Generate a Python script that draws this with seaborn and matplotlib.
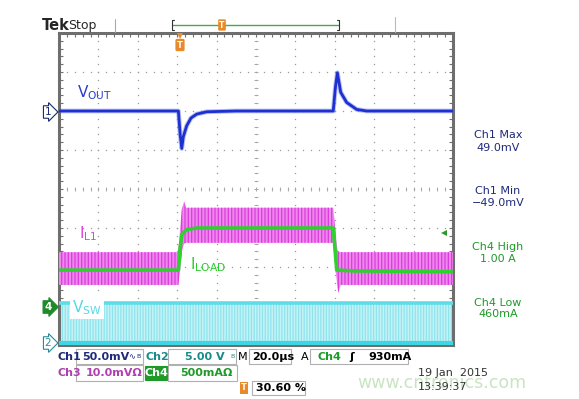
import numpy as np
import pandas as pd
import matplotlib
matplotlib.use("Agg")
import matplotlib.pyplot as plt
import seaborn as sns
from matplotlib.patches import Rectangle
from matplotlib.lines import Line2D

# ---------------- data ----------------
# Time axis in microseconds (20 us/div, 10 div)
vout_t = [0, 60.6, 61.5, 62.3, 63.1, 64.8, 67.0, 69.9, 75.0, 90.0, 139.2, 140.3, 141.3, 143.0, 146.0, 151.1, 156.2, 200]
vout_mv = [0, 0, -30, -48, -33, -19, -9, -4, -1, 0, 0, 30, 49, 24, 11, 2, 0, 0]

iload_t = [0, 60.6, 61.5, 62.4, 64.8, 70.0, 139.2, 140.2, 141.0, 150.0, 200]
iload_a = [0.46, 0.46, 0.75, 0.92, 0.98, 1.00, 1.00, 0.70, 0.46, 0.45, 0.44]

il1_t = [0, 60.6, 61.5, 62.4, 63.5, 64.5, 139.2, 140.2, 141.3, 141.8, 143.0, 200]
il1_hi = [0.69, 0.69, 1.00, 1.25, 1.34, 1.26, 1.26, 1.00, 0.72, 0.70, 0.69, 0.69]
il1_lo = [0.27, 0.27, 0.45, 0.70, 0.80, 0.81, 0.81, 0.50, 0.25, 0.17, 0.27, 0.27]

vsw_t = [0, 200]
vsw_hi = [5.1, 5.1]
vsw_lo = [0.0, 0.0]

# channel scales
CH1_MV_PER_DIV, CH1_OFFSET = 50.0, 2.0
CH4_A_PER_DIV, CH4_OFFSET = 0.5, -3.0
CH2_V_PER_DIV, CH2_OFFSET = 5.0, -3.95

W, H = 579, 399


def fx(x):
    return x / W


def fy(y):
    return 1 - y / H


sns.set_theme(style="white")
plt.rcParams["font.family"] = ["DejaVu Sans"]
plt.rcParams["mathtext.default"] = "regular"
plt.rcParams["hatch.linewidth"] = 0.9

fig = plt.figure(figsize=(5.79, 3.99), dpi=100)
fig.patch.set_facecolor("white")
ax = fig.add_axes([fx(59), fy(345), 394 / W, 312 / H])
ax.set_xlim(0, 200)
ax.set_ylim(-4, 4)
ax.set_facecolor("white")

# ---------------- graticule ----------------
gc = "#9a9a9a"
minor_x = np.arange(0, 200.01, 4)
minor_y = np.arange(-4, 4.01, 0.2)
for xv in np.arange(20, 200, 20):
    ax.plot(np.full_like(minor_y, xv), minor_y, ls="none", marker="s", ms=0.9,
            color=gc, mew=0, zorder=1)
for yv in np.arange(-3, 4, 1):
    ax.plot(minor_x, np.full_like(minor_x, yv), ls="none", marker="s", ms=0.9,
            color=gc, mew=0, zorder=1)
# centre cross with ticks
ax.plot(minor_x, np.zeros_like(minor_x), ls="none", marker="|", ms=3.5, mew=0.7, color="#a8a8a8", zorder=1)
ax.plot(np.full_like(minor_y, 100), minor_y, ls="none", marker="_", ms=3.5, mew=0.7, color="#a8a8a8", zorder=1)

for s in ax.spines.values():
    s.set_color("#6e6e6e")
    s.set_linewidth(2.2)
ax.set_xticks(np.arange(0, 200.01, 4))
ax.set_yticks(np.arange(-4, 4.01, 0.2))
ax.tick_params(direction="in", length=3, width=0.8, color="#6e6e6e",
               top=True, right=True, bottom=True, left=True,
               labelbottom=False, labelleft=False)
ax.grid(False)

# ---------------- traces ----------------
vt = np.array(vsw_t)
ax.fill_between(vt, np.array(vsw_lo) / CH2_V_PER_DIV + CH2_OFFSET,
                np.array(vsw_hi) / CH2_V_PER_DIV + CH2_OFFSET,
                facecolor="#c4f3f7", edgecolor="#8fe4ec", hatch="||||||", lw=0, zorder=2)
df_vsw_hi = pd.DataFrame({"t": vsw_t, "d": np.array(vsw_hi) / CH2_V_PER_DIV + CH2_OFFSET})
df_vsw_lo = pd.DataFrame({"t": vsw_t, "d": np.array(vsw_lo) / CH2_V_PER_DIV + CH2_OFFSET})
sns.lineplot(data=df_vsw_hi, x="t", y="d", ax=ax, color="#5cdde8", lw=2.6, zorder=3)
sns.lineplot(data=df_vsw_lo, x="t", y="d", ax=ax, color="#3fd6e4", lw=3.0, zorder=3)

it = np.array(il1_t)
ax.fill_between(it, np.array(il1_lo) / CH4_A_PER_DIV + CH4_OFFSET,
                np.array(il1_hi) / CH4_A_PER_DIV + CH4_OFFSET,
                facecolor="#ee88ee", edgecolor="#dc3cdc", hatch="|||||", lw=0, zorder=4)

df_iload = pd.DataFrame({"t": iload_t, "d": np.array(iload_a) / CH4_A_PER_DIV + CH4_OFFSET})
sns.lineplot(data=df_iload, x="t", y="d", ax=ax, color="#2ed12e", lw=2.6, zorder=5)

df_vout = pd.DataFrame({"t": vout_t, "d": np.array(vout_mv) / CH1_MV_PER_DIV + CH1_OFFSET})
sns.lineplot(data=df_vout, x="t", y="d", ax=ax, color="#6070e8", lw=3.4, alpha=0.45, zorder=6)
sns.lineplot(data=df_vout, x="t", y="d", ax=ax, color="#1e30d0", lw=2.0, zorder=7)
ax.set_xlabel("")
ax.set_ylabel("")

# trace labels
fig.text(fx(77), fy(93), r"V$_{OUT}$", color="#2a3ccc", fontsize=11, va="center", ha="left")
fig.text(fx(79), fy(234), r"I$_{L1}$", color="#e040e0", fontsize=11, va="center", ha="left")
fig.text(fx(190), fy(265), r"I$_{LOAD}$", color="#2ccc2c", fontsize=11, va="center", ha="left")
fig.text(fx(72), fy(308), r"V$_{SW}$", color="#55d8e6", fontsize=11, va="center", ha="left",
         bbox=dict(facecolor="white", edgecolor="none", pad=1.5), zorder=10)

# ---------------- header ----------------
fig.text(fx(42), fy(26), "Tek", fontsize=10.5, fontweight="bold", va="center", ha="left")
fig.text(fx(68), fy(26), "Stop", fontsize=9, va="center", ha="left")
fig.add_artist(Line2D([fx(115), fx(115)], [fy(19), fy(32)], color="#aaaaaa", lw=0.8))
fig.add_artist(Line2D([fx(395), fx(395)], [fy(17), fy(32)], color="#bbbbbb", lw=0.8))
fig.add_artist(Line2D([fx(172), fx(339)], [fy(25), fy(25)], color="#4aa84a", lw=1.0))
for xb, d in [(172, 2), (339, -2)]:
    fig.add_artist(Line2D([fx(xb + d), fx(xb), fx(xb), fx(xb + d)],
                          [fy(20), fy(20), fy(30), fy(30)], color="#333333", lw=0.8))
fig.text(fx(222), fy(25), "T", fontsize=5.5, color="white", fontweight="bold", ha="center", va="center",
         bbox=dict(boxstyle="round,pad=0.15", facecolor="#e88a2a", edgecolor="none"))
# trigger position marker
fig.add_artist(Line2D([fx(180)], [fy(36)], marker="v", ms=5, color="#e88a2a", mew=0))
fig.text(fx(180), fy(45), "T", fontsize=6, color="white", fontweight="bold", ha="center", va="center",
         bbox=dict(boxstyle="round,pad=0.2", facecolor="#e88a2a", edgecolor="none"))
# trigger level arrow
fig.add_artist(Line2D([fx(444)], [fy(233)], marker="<", ms=5, color="#2a9a2a", mew=0))

# ---------------- channel ground markers ----------------
fig.text(fx(48), fy(112), "1", fontsize=7.5, color="#1a2a70", ha="center", va="center",
         bbox=dict(boxstyle="rarrow,pad=0.12", facecolor="white", edgecolor="#1a2a70", lw=0.8))
fig.text(fx(48), fy(307), "4", fontsize=7.5, color="white", fontweight="bold", ha="center", va="center",
         bbox=dict(boxstyle="rarrow,pad=0.12", facecolor="#1e8a2a", edgecolor="#1e8a2a", lw=0.8))
fig.text(fx(48), fy(343), "2", fontsize=7.5, color="#2a8a9a", ha="center", va="center",
         bbox=dict(boxstyle="rarrow,pad=0.12", facecolor="white", edgecolor="#2a8a9a", lw=0.8))

# ---------------- right-side measurements ----------------
navy = "#1f2a7a"
green = "#1e9a28"
meas = [(135, 148, "Ch1 Max", "49.0mV", navy),
        (191, 203, "Ch1 Min", "\u221249.0mV", navy),
        (247, 259, "Ch4 High", "1.00 A", green),
        (303, 314, "Ch4 Low", "460mA", green)]
for y1, y2, a, b, c in meas:
    fig.text(fx(498), fy(y1), a, fontsize=8, color=c, ha="center", va="center")
    fig.text(fx(498), fy(y2), b, fontsize=8, color=c, ha="center", va="center")

# ---------------- bottom status panel ----------------
def box(x0, x1, y0, y1, fc="white", ec="#b0b0b0"):
    fig.add_artist(Rectangle((fx(x0), fy(y1)), fx(x1) - fx(x0), fy(y0) - fy(y1),
                             facecolor=fc, edgecolor=ec, lw=0.8, transform=fig.transFigure))

fs = 8
box(76, 143, 349, 364)
box(168, 236, 349, 364)
box(249, 291, 349, 364)
box(310, 408, 349, 364)
box(76, 143, 365, 381)
box(145, 167, 366, 380, fc="#1e9a28", ec="#1e9a28")
box(168, 237, 365, 381)
box(252, 305, 381, 395)

fig.text(fx(58), fy(357), "Ch1", fontsize=fs, color=navy, va="center", fontweight="bold")
fig.text(fx(82), fy(357), "50.0mV", fontsize=fs, color=navy, va="center", fontweight="bold")
fig.text(fx(128), fy(357), "\u223f", fontsize=6, color=navy, va="center")
fig.text(fx(136), fy(356), "B", fontsize=4.5, color=navy, va="center")
fig.text(fx(145), fy(357), "Ch2", fontsize=fs, color="#1a8a8a", va="center", fontweight="bold")
fig.text(fx(185), fy(357), "5.00 V", fontsize=fs, color="#1a8a8a", va="center", fontweight="bold")
fig.text(fx(230), fy(356), "B", fontsize=4.5, color="#1a8a8a", va="center")
fig.text(fx(238), fy(357), "M", fontsize=fs, color="black", va="center")
fig.text(fx(252), fy(357), "20.0\u00b5s", fontsize=fs, color="black", va="center", fontweight="bold")
fig.text(fx(301), fy(357), "A", fontsize=fs, color="black", va="center")
fig.text(fx(318), fy(357), "Ch4", fontsize=fs, color=green, va="center", fontweight="bold")
fig.text(fx(349), fy(357), "\u0283", fontsize=fs, color="black", va="center", fontweight="bold")
fig.text(fx(368), fy(357), "930mA", fontsize=fs, color="black", va="center", fontweight="bold")

fig.text(fx(58), fy(373), "Ch3", fontsize=fs, color="#b040b0", va="center", fontweight="bold")
fig.text(fx(86), fy(373), "10.0mV\u03a9", fontsize=fs, color="#b040b0", va="center", fontweight="bold")
fig.text(fx(156), fy(373), "Ch4", fontsize=fs, color="white", va="center", ha="center", fontweight="bold")
fig.text(fx(180), fy(373), "500mA\u03a9", fontsize=fs, color=green, va="center", fontweight="bold")

fig.text(fx(244), fy(388), "T", fontsize=6, color="white", fontweight="bold", ha="center", va="center",
         bbox=dict(boxstyle="square,pad=0.15", facecolor="#e88a2a", edgecolor="none"))
fig.text(fx(256), fy(388), "30.60 %", fontsize=fs, color="black", va="center", fontweight="bold")

fig.text(fx(357), fy(383), "www.cntronics.com", fontsize=12.5, color="#c9e4c2", va="center", ha="left", zorder=0)
fig.text(fx(418), fy(373), "19 Jan  2015", fontsize=fs, color="#333333", va="center")
fig.text(fx(418), fy(387), "13:39:37", fontsize=fs, color="#333333", va="center")

fig.savefig("out.png", dpi=100, facecolor="white")
